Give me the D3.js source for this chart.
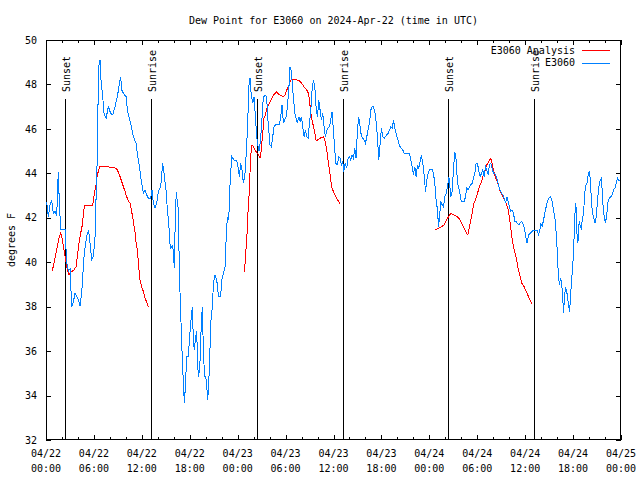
<!DOCTYPE html>
<html><head><meta charset="utf-8">
<script src="https://cdn.jsdelivr.net/npm/d3@7"></script>
<style>body{margin:0;background:#fff}svg{display:block}text{font-family:"DejaVu Sans Mono",monospace;font-size:10px;fill:#000}</style>
</head><body>
<script>
const title = "Dew Point for E3060 on 2024-Apr-22 (time in UTC)";
const yLabel = "degrees F";
const startTime = "2024-04-22T00:00:00Z";
const spanHours = 72;
const yTicks = [32,34,36,38,40,42,44,46,48,50];
const seriesNames = ["E3060 Analysis","E3060"];
const seriesColors = ["#ff0000","#0080ff"];

// observed dew point (hours since start, deg F)
const obsHours = [0.08,0.29,0.50,0.71,0.92,1.13,1.34,1.54,1.67,1.84,2.38,2.59,2.80,3.01,3.22,3.42,3.63,3.84,4.05,4.26,4.47,4.59,4.76,4.93,5.18,5.34,5.51,5.72,5.93,6.14,6.26,6.35,6.47,6.60,6.76,6.89,7.10,7.27,7.52,7.81,8.10,8.35,8.64,8.94,9.19,9.35,9.48,9.69,10.02,10.19,10.44,10.73,10.94,11.27,11.44,11.69,11.98,12.19,12.40,12.61,12.82,13.11,13.28,13.44,13.65,13.86,14.07,14.36,14.61,14.78,15.03,15.20,15.37,15.45,15.57,15.87,16.08,16.20,16.33,16.45,16.58,16.70,16.83,16.99,17.20,17.33,17.45,17.62,17.83,17.95,18.12,18.25,18.33,18.46,18.58,18.71,18.87,19.00,19.12,19.29,19.46,19.58,19.71,19.87,20.00,20.13,20.25,20.38,20.54,20.67,20.84,20.96,21.17,21.38,21.59,21.88,22.00,22.21,22.42,22.55,22.71,22.88,23.05,23.26,23.55,23.80,23.97,24.22,24.38,24.55,24.72,24.89,25.05,25.22,25.43,25.55,25.68,25.89,26.05,26.30,26.47,26.64,
26.72,26.89,27.06,27.22,27.43,27.64,27.72,27.89,28.05,28.22,28.39,28.56,28.73,28.98,29.23,29.39,29.56,29.73,29.90,30.06,30.23,30.40,30.56,30.73,30.86,30.98,31.15,31.32,31.48,31.65,31.82,31.99,32.15,32.32,32.49,32.65,32.82,32.99,33.16,33.32,33.49,33.66,33.82,33.99,34.16,34.32,34.49,34.66,34.82,34.99,35.16,35.32,35.49,35.66,35.82,35.99,36.16,36.33,36.49,36.66,36.83,36.99,37.16,37.29,37.45,37.66,37.83,37.99,38.16,38.33,38.50,38.66,38.83,39.00,39.16,39.33,39.50,39.67,39.83,40.00,40.17,40.33,40.50,40.67,40.84,41.00,41.17,41.34,41.50,41.67,41.84,42.00,42.17,42.34,42.51,42.67,42.84,43.01,43.17,43.34,43.51,43.67,43.84,44.01,44.18,44.34,44.51,44.68,44.84,45.18,45.51,45.68,45.85,46.01,46.18,46.35,46.51,46.68,46.85,47.01,47.18,47.35,47.52,47.68,47.85,48.02,48.18,48.35,48.52,48.68,48.85,
49.02,49.15,49.27,49.44,49.61,49.77,49.94,50.11,50.28,50.44,50.53,50.69,50.86,51.02,51.19,51.36,51.44,51.61,51.77,51.94,52.11,52.36,52.53,52.69,52.86,53.03,53.19,53.36,53.53,53.70,53.86,54.03,54.20,54.36,54.53,54.70,54.86,55.03,55.20,55.37,55.53,55.70,55.87,56.03,56.20,56.37,56.53,56.70,56.87,57.04,57.20,57.37,57.54,57.70,57.87,58.04,58.20,58.37,58.54,58.71,58.87,59.04,59.21,59.37,59.58,59.79,60.01,60.22,60.43,60.63,60.84,61.05,61.26,61.47,61.68,61.80,61.97,62.13,62.30,62.46,62.63,62.80,62.97,63.13,63.34,63.55,63.76,63.88,63.97,64.05,64.18,64.30,64.38,64.47,64.55,64.63,64.72,64.80,64.93,65.05,65.14,65.22,65.35,65.47,65.56,65.68,65.81,65.93,66.06,66.18,66.27,66.35,66.48,66.60,66.73,66.81,66.90,67.02,67.10,67.23,67.31,67.44,67.52,67.73,67.93,68.06,68.19,68.31,68.44,68.56,68.73,68.90,69.06,69.23,69.40,69.56,69.73,69.90,70.06,70.23,70.40,70.56,70.73,70.90,71.06,71.23,71.40,71.57,71.69,71.82];
const obsDew = [42.72,42.05,42.58,42.8,42.2,42.3,42.1,44.08,42.65,41.48,41.48,40.0,39.6,39.7,38.0,38.2,38.6,38.45,38.3,38.03,38.6,39.3,40.25,40.77,41.3,41.45,40.85,40.1,40.25,41.15,42.8,43.4,46.25,48.8,49.1,48.2,47.45,46.7,46.48,47.0,46.7,46.63,47.0,47.45,48.05,48.35,47.75,47.6,47.45,46.85,46.48,46.03,45.65,45.35,44.9,44.3,43.55,43.1,43.25,43.03,42.88,42.88,43.25,42.65,42.43,42.65,43.18,43.4,44.45,44.0,43.25,42.35,41.8,41.2,40.6,40.75,39.73,42.35,43.18,42.65,42.35,39.43,38.15,36.35,34.55,33.65,34.4,35.75,35.75,36.5,37.25,37.7,38.0,36.35,36.05,36.58,36.88,35.3,34.85,35.6,37.4,38.0,35.9,34.85,34.85,34.4,33.8,34.55,36.2,37.48,38.0,39.05,39.43,39.2,38.48,38.48,39.2,39.5,39.8,41.0,42.05,41.9,43.55,44.75,44.6,44.6,44.45,43.85,44.45,44.15,43.55,43.85,44.75,45.95,48.05,48.28,47.6,47.15,47.45,46.1,45.35,45.05,
45.05,45.65,46.55,47.45,47.5,47.45,46.7,45.95,45.28,45.2,45.65,46.1,46.18,46.18,46.18,46.55,47.08,46.25,46.4,46.55,47.0,47.75,48.8,48.58,47.9,47.45,46.7,46.48,46.25,46.55,46.33,46.55,46.1,45.65,45.95,45.65,45.58,46.25,46.85,47.75,48.2,47.9,47.0,46.55,47.3,46.85,46.4,46.7,46.1,45.65,45.95,46.03,46.1,46.4,46.78,45.95,45.05,44.38,44.38,44.75,44.68,44.38,44.53,44.08,44.45,44.23,44.68,44.75,44.6,44.83,44.68,45.13,44.68,45.95,46.55,46.1,45.65,45.58,45.5,45.35,45.65,45.95,46.25,46.85,47.0,47.0,46.78,46.33,45.65,44.6,45.35,46.03,45.65,45.58,45.65,45.73,45.8,45.95,46.1,46.03,46.4,46.03,45.8,45.58,45.35,45.2,45.13,45.05,44.9,44.9,44.9,44.6,44.3,43.93,44.3,43.85,44.38,44.23,44.53,44.83,44.45,43.93,43.18,43.7,44.0,44.15,44.18,44.18,44.0,43.55,42.8,
42.35,41.6,42.05,42.73,42.58,42.5,42.95,43.1,43.4,43.85,43.55,42.95,43.18,44.15,44.98,44.6,44.0,43.4,43.25,42.8,42.73,42.73,42.95,43.33,43.25,43.4,43.48,43.55,43.78,44.0,44.45,44.45,44.08,43.85,44.0,44.15,43.85,44.3,44.15,43.93,44.38,44.45,44.23,44.0,44.0,43.85,43.7,43.4,43.25,43.1,43.03,42.88,42.65,42.95,42.73,42.5,42.28,42.35,42.2,41.83,41.83,41.75,41.68,41.78,41.83,41.68,41.3,40.85,41.23,41.3,41.38,41.45,41.45,41.45,41.23,41.38,41.75,41.6,41.9,42.2,42.5,42.73,42.88,42.95,42.8,42.35,41.9,41.3,40.85,40.1,39.35,38.98,39.2,39.28,38.98,38.8,38.3,37.7,38.45,38.9,38.75,38.65,38.3,38.0,37.78,38.45,39.2,39.65,40.55,41.6,42.5,42.65,41.3,40.85,41.68,41.83,41.6,41.53,41.75,42.05,42.35,42.8,43.4,43.55,44.0,44.08,43.55,42.65,42.2,42.05,41.75,42.05,42.8,43.4,43.7,43.78,42.65,42.05,41.75,42.2,42.8,42.88,42.95,43.03,43.25,43.33,43.55,43.78,43.7,43.7];

// analysis dew point (null = gap)
const anaHours = [0.79,1.00,1.21,1.42,1.63,1.84,2.05,2.25,2.46,2.67,2.88,3.09,3.30,3.51,3.76,3.92,4.13,4.34,4.55,4.68,4.80,5.80,5.93,6.05,6.26,6.43,6.60,6.76,7.60,8.43,8.77,8.94,9.27,9.48,9.69,9.90,10.10,10.31,10.52,10.73,10.98,11.15,11.27,11.44,11.61,11.77,11.98,12.19,12.40,12.61,12.82,
18.0,
24.80,24.93,25.05,25.18,25.26,25.40,25.47,25.64,25.80,25.97,26.30,26.60,26.80,26.93,27.14,27.30,27.47,27.64,27.85,28.06,28.27,28.48,28.68,28.89,29.10,29.31,29.52,29.73,29.94,30.15,30.36,30.56,30.77,30.98,31.19,31.39,31.60,31.82,32.03,32.23,32.44,32.65,32.86,32.99,33.16,33.32,33.49,33.66,33.82,33.99,34.32,34.74,34.95,35.16,35.32,35.49,35.66,35.82,35.99,36.20,36.41,36.63,36.79,
42.0,
48.73,49.14,49.56,49.85,50.10,50.40,50.69,51.02,51.36,51.65,51.86,52.07,52.36,52.61,52.82,53.03,53.20,53.36,53.53,53.70,54.03,54.28,54.53,54.70,54.99,55.20,55.45,55.70,55.87,56.03,56.24,56.45,56.70,56.87,57.08,57.29,57.50,57.70,57.91,58.12,58.33,58.54,58.75,58.96,59.16,59.37,59.58,59.87,60.13,60.42,60.63,60.84];
const anaDew = [39.62,39.95,40.33,40.7,41.08,41.35,41.0,40.55,40.1,39.65,39.43,39.55,39.6,39.65,39.8,40.25,40.85,41.3,41.68,42.13,42.53,42.55,42.73,43.1,43.48,43.93,44.15,44.33,44.3,44.25,44.23,44.15,43.85,43.63,43.4,43.18,42.95,42.77,42.65,42.28,41.75,41.33,40.9,40.55,39.8,39.2,38.9,38.68,38.38,38.2,38.0,
null,
39.58,39.95,40.63,41.3,42.05,42.8,43.4,44.83,45.28,45.2,44.98,44.83,44.68,44.98,45.8,46.48,46.63,46.93,47.08,47.23,47.38,47.53,47.6,47.68,47.57,47.53,47.48,47.45,47.53,47.75,47.9,48.13,48.23,48.23,48.23,48.2,48.2,48.13,48.05,47.93,47.83,47.75,47.6,47.3,46.7,46.4,46.1,45.8,45.5,45.5,45.58,45.65,45.43,45.05,44.6,44.15,43.7,43.33,43.18,43.03,42.88,42.73,42.65,
null,
41.45,41.53,41.6,41.68,41.88,42.05,42.2,42.13,42.08,42.0,41.9,41.75,41.53,41.33,41.23,41.6,41.9,42.2,42.58,42.75,43.1,43.4,43.63,43.85,44.15,44.38,44.53,44.68,44.45,44.15,43.85,43.7,43.4,43.2,43.03,42.88,42.73,42.58,42.3,41.75,41.15,40.7,40.4,40.03,39.65,39.35,39.05,38.9,38.68,38.45,38.3,38.12];

const eventNames = ["Sunset","Sunrise","Sunset","Sunrise","Sunset","Sunrise"];
const eventHours = [2.38,13.17,26.43,37.2,50.36,61.13];

// ---------------------------------------------------------------
const W = 640, H = 480;
const L = 46, R = 621, T = 40, B = 440;
const t0 = new Date(startTime);
const hrs = h => new Date(t0.getTime() + h * 3600e3);

const svg = d3.select("body").append("svg").attr("width", W).attr("height", H);

const x = d3.scaleUtc().domain([t0, hrs(spanHours)]).range([L, R]);
const y = d3.scaleLinear().domain([d3.min(yTicks), d3.max(yTicks)]).range([B, T]);

const majorTicks = d3.utcHour.every(6).range(t0, hrs(spanHours + 1));
const minorTicks = d3.utcHour.every(2).range(t0, hrs(spanHours + 1)).filter(d => d.getUTCHours() % 6 !== 0);

function tickStyle(g) {
  g.select(".domain").remove();
  g.selectAll(".tick line").attr("stroke", "#000").attr("shape-rendering", "crispEdges");
}

// bottom / top axes (ticks inward)
svg.append("g").attr("transform", `translate(0,${B})`)
  .call(d3.axisBottom(x).tickValues(majorTicks).tickSize(-5).tickFormat(""))
  .call(tickStyle);
svg.append("g").attr("transform", `translate(0,${B})`)
  .call(d3.axisBottom(x).tickValues(minorTicks).tickSize(-3).tickFormat(""))
  .call(tickStyle);
svg.append("g").attr("transform", `translate(0,${T})`)
  .call(d3.axisTop(x).tickValues(majorTicks).tickSize(-5).tickFormat(""))
  .call(tickStyle);
svg.append("g").attr("transform", `translate(0,${T})`)
  .call(d3.axisTop(x).tickValues(minorTicks).tickSize(-3).tickFormat(""))
  .call(tickStyle);

// y axes
svg.append("g").attr("transform", `translate(${L},0)`)
  .call(d3.axisLeft(y).tickValues(yTicks).tickSize(-5).tickPadding(9).tickFormat(d3.format("d")))
  .call(tickStyle)
  .call(g => g.selectAll("text").attr("font-family", '"DejaVu Sans Mono",monospace').attr("font-size", 10).attr("fill", "#000"));
svg.append("g").attr("transform", `translate(${R},0)`)
  .call(d3.axisRight(y).tickValues(yTicks).tickSize(-5).tickFormat(""))
  .call(tickStyle);

// x tick labels (two lines)
const fmtDate = d3.utcFormat("%m/%d"), fmtTime = d3.utcFormat("%H:%M");
const xl = svg.append("g").selectAll("text").data(majorTicks).join("text")
  .attr("text-anchor", "middle")
  .attr("x", d => x(d));
xl.append("tspan").attr("x", d => x(d)).attr("y", 457).text(fmtDate);
xl.append("tspan").attr("x", d => x(d)).attr("y", 472).text(fmtTime);

// border
svg.append("rect").attr("x", L + 0.5).attr("y", T + 0.5).attr("width", R - L - 1).attr("height", B - T - 1)
  .attr("fill", "none").attr("stroke", "#000").attr("shape-rendering", "crispEdges");

// sunrise/sunset markers
const ev = svg.append("g");
eventHours.forEach((h, i) => {
  const xe = Math.round(x(hrs(h))) + 0.5;
  ev.append("line").attr("x1", xe).attr("x2", xe).attr("y1", 99).attr("y2", B)
    .attr("stroke", "#000").attr("shape-rendering", "crispEdges");
  ev.append("text").attr("transform", `translate(${xe + 4.5},92) rotate(-90)`)
    .attr("text-anchor", "start").text(eventNames[i]);
});

// series
const obs = obsHours.map((h, i) => ({ t: hrs(h), v: obsDew[i] }));
const ana = anaHours.map((h, i) => ({ t: hrs(h), v: anaDew[i] }));
const line = d3.line().defined(d => d.v != null).x(d => x(d.t)).y(d => y(d.v));

svg.append("path").datum(ana).attr("d", line).attr("fill", "none")
  .attr("stroke", seriesColors[0]).attr("stroke-width", 1).attr("shape-rendering", "crispEdges");
svg.append("path").datum(obs).attr("d", line).attr("fill", "none")
  .attr("stroke", seriesColors[1]).attr("stroke-width", 1).attr("shape-rendering", "crispEdges");

// legend
const lg = svg.append("g");
seriesNames.forEach((n, i) => {
  const ly = 50 + i * 12.5;
  lg.append("text").attr("x", 575).attr("y", ly).attr("dy", "0.35em").attr("text-anchor", "end").text(n);
  lg.append("line").attr("x1", 582).attr("x2", 610).attr("y1", Math.round(ly) + 0.5).attr("y2", Math.round(ly) + 0.5)
    .attr("stroke", seriesColors[i]).attr("shape-rendering", "crispEdges");
});

// titles
svg.append("text").attr("x", (L + R) / 2).attr("y", 20).attr("dy", "0.35em").attr("text-anchor", "middle").text(title);
svg.append("text").attr("transform", `translate(11,${(T + B) / 2}) rotate(-90)`)
  .attr("dy", "0.35em").attr("text-anchor", "middle").text(yLabel);
</script>
</body></html>
